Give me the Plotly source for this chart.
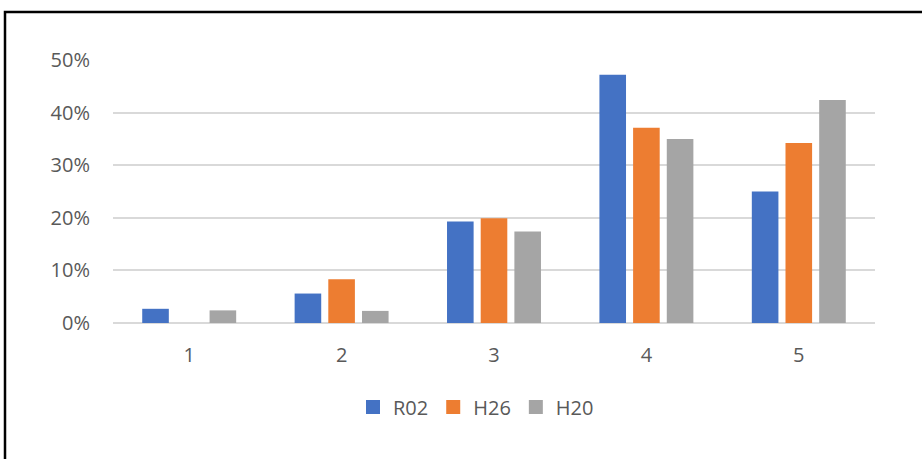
import plotly.graph_objects as go

# Share of responses per score, three survey years
categories = ["1", "2", "3", "4", "5"]
r02 = [0.027, 0.056, 0.193, 0.472, 0.250]
h26 = [0.000, 0.083, 0.199, 0.371, 0.342]
h20 = [0.024, 0.023, 0.174, 0.350, 0.424]
series_names = ["R02", "H26", "H20"]
series_colors = ["#4472C4", "#ED7D31", "#A5A5A5"]
y_ticks = [0, 0.1, 0.2, 0.3, 0.4, 0.5]

W, H = 922, 459
L, R, T, B = 113, 47, 60, 136
pw, ph = W - L - R, H - T - B


def px_x(x):
    return (x - L) / pw


def px_y(y):
    return (H - B - y) / ph


font_family = "Open Sans"
text_color = "#595959"
font_size = 20

fig = go.Figure()
for name, vals, col in zip(series_names, [r02, h26, h20], series_colors):
    fig.add_trace(go.Bar(x=categories, y=vals, name=name, marker_color=col,
                         marker_line_width=0, showlegend=False))
    # square legend key
    fig.add_trace(go.Scatter(x=[None], y=[None], mode="markers", name=name,
                             marker=dict(symbol="square", size=14, color=col)))

# chart frame (left and top edges)
fig.add_shape(type="path", xref="paper", yref="paper",
              path=f"M {px_x(5)} {px_y(470)} L {px_x(5)} {px_y(12)} L {px_x(940)} {px_y(12)}",
              line=dict(color="#000000", width=2.5))

fig.update_layout(
    width=W, height=H,
    margin=dict(l=L, r=R, t=T, b=B),
    paper_bgcolor="white", plot_bgcolor="white",
    barmode="group", bargap=0.337, bargroupgap=0.21,
    font=dict(family=font_family, size=font_size, color=text_color),
    showlegend=True,
    legend=dict(orientation="h", x=px_x(476), xanchor="center",
                y=px_y(407), yanchor="middle",
                font=dict(size=font_size, color=text_color),
                itemwidth=30, tracegroupgap=0),
)
fig.update_xaxes(showgrid=False, showline=False, ticks="", zeroline=False,
                 ticklabelstandoff=18)
fig.update_yaxes(range=[0, 0.5], tickvals=y_ticks, tickformat=".0%",
                 showgrid=True, gridcolor="#D9D9D9", gridwidth=1.5,
                 zeroline=True, zerolinecolor="#D9D9D9", zerolinewidth=1.5,
                 showline=False, ticks="", ticklabelstandoff=22)

fig.write_html("out.html")
